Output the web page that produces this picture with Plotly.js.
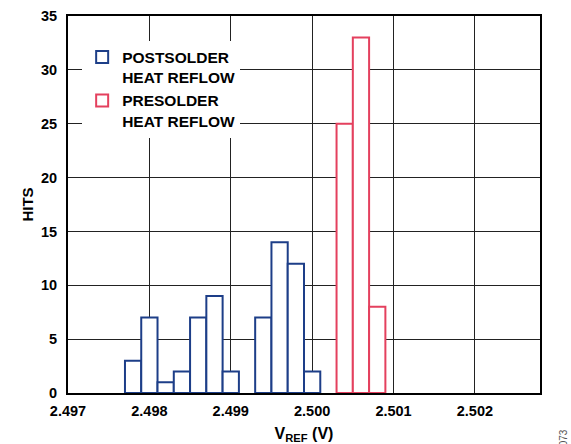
<!DOCTYPE html>
<html>
<head>
<meta charset="utf-8">
<script src="https://cdn.plot.ly/plotly-3.0.1.min.js"></script>
<style>html,body{margin:0;padding:0;background:#fff;}#chart{width:571px;height:444px;}</style>
</head>
<body>
<div id="chart"></div>
<script>
// Bin centres (V) and hit counts
const postX = [2.4978, 2.4980, 2.4982, 2.4984, 2.4986, 2.4988, 2.4990, 2.4994, 2.4996, 2.4998, 2.5000];
const postHits = [3, 7, 1, 2, 7, 9, 2, 7, 14, 12, 2];
const preX = [2.5004, 2.5006, 2.5008];
const preHits = [25, 33, 8];
const binWidth = 0.0002;
const xTicks = [2.497, 2.498, 2.499, 2.500, 2.501, 2.502];
const xTickLabels = ["2.497", "2.498", "2.499", "2.500", "2.501", "2.502"];
const yTicks = [0, 5, 10, 15, 20, 25, 30, 35];

const blue = '#1d3e88';
const red = '#e4405e';
const fontFam = 'Liberation Sans, Arial, Helvetica, sans-serif';

const traces = [
  {type: 'bar', x: postX, y: postHits, width: binWidth,
   name: 'POSTSOLDER<br>HEAT REFLOW',
   marker: {color: '#ffffff', line: {color: blue, width: 2}}},
  {type: 'bar', x: preX, y: preHits, width: binWidth,
   name: 'PRESOLDER<br>HEAT REFLOW',
   marker: {color: '#ffffff', line: {color: red, width: 2}}}
];

const layout = {
  width: 571, height: 444,
  margin: {l: 68, r: 31, t: 16, b: 51, pad: 0},
  paper_bgcolor: '#fff', plot_bgcolor: '#fff',
  barmode: 'overlay',
  showlegend: true,
  legend: {
    x: 0.03, y: 0.935, xanchor: 'left', yanchor: 'top',
    bgcolor: '#ffffff', borderwidth: 0,
    valign: 'top', tracegroupgap: 6, itemwidth: 30,
    font: {family: fontFam, size: 15.5, color: '#000', weight: 'bold'}
  },
  xaxis: {
    range: [2.497, 2.5028],
    tickvals: xTicks, ticktext: xTickLabels,
    showgrid: true, gridcolor: '#222', gridwidth: 1,
    zeroline: false,
    showline: true, linecolor: '#000', linewidth: 2, mirror: true,
    ticks: '', ticklabelstandoff: 4,
    tickfont: {family: fontFam, size: 14.5, color: '#000', weight: 'bold'},
    title: {text: 'V<sub>REF</sub> (V)', standoff: 10,
            font: {family: fontFam, size: 16, color: '#000', weight: 'bold'}}
  },
  yaxis: {
    range: [0, 35],
    tickvals: yTicks,
    showgrid: true, gridcolor: '#222', gridwidth: 1,
    zeroline: false,
    showline: true, linecolor: '#000', linewidth: 2, mirror: true,
    ticks: '', ticklabelstandoff: 6,
    tickfont: {family: fontFam, size: 14.5, color: '#000', weight: 'bold'},
    title: {text: 'HITS', standoff: 4,
            font: {family: fontFam, size: 15, color: '#000', weight: 'bold'}}
  },
  annotations: [
    {text: '07103-073', xref: 'paper', yref: 'paper', x: 1.049, y: -0.16,
     showarrow: false, textangle: -90, xanchor: 'center', yanchor: 'middle',
     font: {family: fontFam, size: 10, color: '#555'}}
  ]
};

Plotly.newPlot('chart', traces, layout, {displayModeBar: false, staticPlot: true});
</script>
</body>
</html>
